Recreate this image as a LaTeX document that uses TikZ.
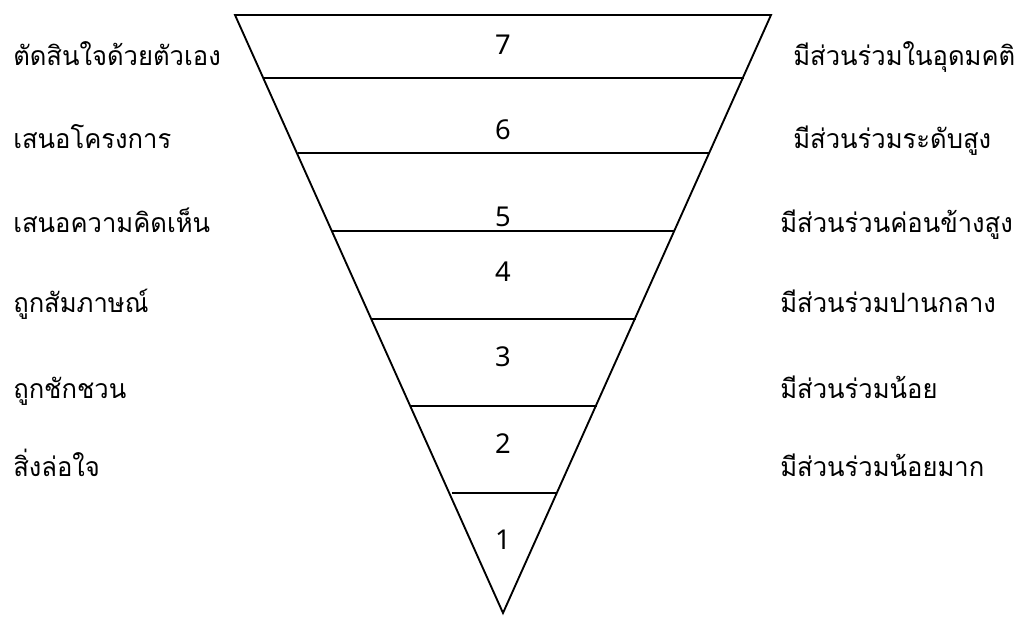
\documentclass[tikz,border=0pt]{standalone}
\usepackage{fontspec}
\newfontfamily\thaifont[Script=Thai,FakeStretch=0.96]{Loma}
\newfontfamily\numfont{Noto Sans}
\tikzset{
  px/.style={x=0.75pt,y=-0.75pt},
  edge/.style={line width=1.4pt},
  sep/.style={line width=1.4pt},
  lbl/.style={inner sep=0pt,anchor=base west,font=\thaifont\fontsize{20}{24}\selectfont},
  num/.style={inner sep=0pt,anchor=center,font=\numfont\fontsize{20.5}{24}\selectfont}
}
\begin{document}
\begin{tikzpicture}[px]
\useasboundingbox (0,0) rectangle (1024,617);
\coordinate (TL) at (235,15);
\coordinate (TR) at (771,15);
\coordinate (TIP) at (503,613);
\draw[edge,line join=miter] (TL) -- (TR) -- (TIP) -- cycle;
% separators
\coordinate (a1) at (264,78);    \coordinate (b1) at (743.5,78);
\coordinate (a2) at (298,153);   \coordinate (b2) at (709.2,153);
\coordinate (a3) at (331.8,231); \coordinate (b3) at (675,231);
\coordinate (a4) at (371.3,319); \coordinate (b4) at (636,319);
\coordinate (a5) at (410.2,406); \coordinate (b5) at (597,406);
\coordinate (a6) at (452,493);   \coordinate (b6) at (557,493);
\foreach \i in {1,...,6} {\draw[sep] (a\i) -- (b\i);}
% numbers
\node[num] (n7) at (503,45) {7};
\node[num] (n6) at (503,130) {6};
\node[num] (n5) at (503,217) {5};
\node[num] (n4) at (503,272) {4};
\node[num] (n3) at (503,357) {3};
\node[num] (n2) at (503,444) {2};
\node[num] (n1) at (503,540) {1};
% left labels
\node[lbl] (l7) at (13,65) {ตัดสินใจด้วยตัวเอง};
\node[lbl] (l6) at (13,148) {เสนอโครงการ};
\node[lbl] (l5) at (13,232) {เสนอความคิดเห็น};
\node[lbl] (l4) at (13,312) {ถูกสัมภาษณ์};
\node[lbl] (l3) at (13,398) {ถูกชักชวน};
\node[lbl] (l2) at (13,476) {สิ่งล่อใจ};
% right labels
\node[lbl] (r7) at (793,65) {มีส่วนร่วมในอุดมคติ};
\node[lbl] (r6) at (793,148) {มีส่วนร่วมระดับสูง};
\node[lbl] (r5) at (780,232) {มีส่วนร่วนค่อนข้างสูง};
\node[lbl] (r4) at (780,312) {มีส่วนร่วมปานกลาง};
\node[lbl] (r3) at (780,398) {มีส่วนร่วมน้อย};
\node[lbl] (r2) at (780,476) {มีส่วนร่วมน้อยมาก};
\end{tikzpicture}
\end{document}
